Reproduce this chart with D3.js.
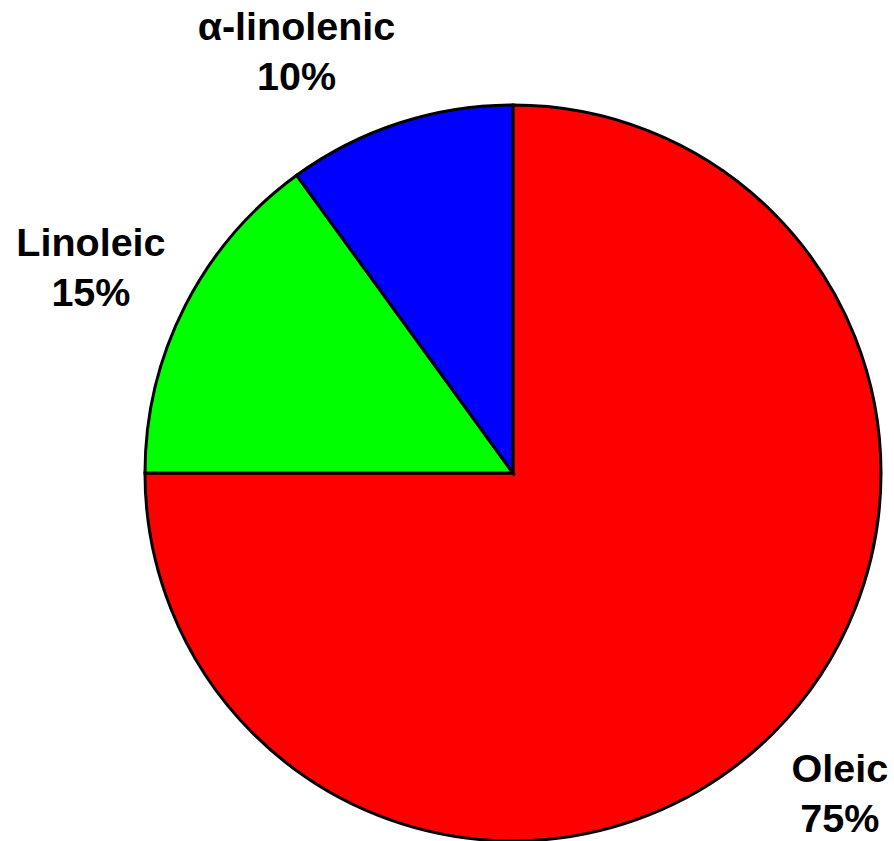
<!DOCTYPE html>
<html>
<head>
<meta charset="utf-8">
<script src="https://cdn.jsdelivr.net/npm/d3@7"></script>
<style>
  body { margin: 0; background: #fff; }
  text { font-family: "Liberation Sans", Arial, sans-serif; font-weight: bold; }
</style>
</head>
<body>
<svg width="894" height="841"></svg>
<script>
// fatty acid composition
var categories = ["Oleic", "Linoleic", "\u03b1-linolenic"];
var values = [75, 15, 10];
var colors = ["#ff0000", "#00ff00", "#0000ff"];

var width = 894, height = 841;
var radius = 368;
var cx = 513, cy = 473;

// excel "best fit" moves the labels around a bit
var labelNudge = [[3, -4], [-14, 2], [-75, 14]];

var pie = d3.pie()
    .value(function(d){ return d; })
    .sort(null);

var arc = d3.arc()
    .outerRadius(radius)
    .innerRadius(0);

var labelArc = d3.arc()
    .outerRadius(458 * 2)
    .innerRadius(0);   // centroid of (0, 2R) sits at R

var svg = d3.select("svg")
    .attr("width", width)
    .attr("height", height);

var g = svg.append("g")
    .attr("transform", "translate(" + cx + "," + cy + ")");

var arcs = pie(values);

g.selectAll("path")
    .data(arcs)
    .enter()
    .append("path")
    .attr("d", arc)
    .attr("fill", function(d, i){ return colors[i]; })
    .attr("stroke", "#000")
    .attr("stroke-width", 3)
    .attr("stroke-linejoin", "miter");

var labels = g.selectAll("g.lbl")
    .data(arcs)
    .enter()
    .append("g")
    .attr("class", "lbl")
    .attr("transform", function(d, i){
      var c = labelArc.centroid(d);
      return "translate(" + (c[0] + labelNudge[i][0]) + "," + (c[1] + labelNudge[i][1]) + ")";
    });

labels.append("text")
    .attr("text-anchor", "middle")
    .attr("y", -11)
    .attr("font-size", 39.5)
    .text(function(d, i){ return categories[i]; });

labels.append("text")
    .attr("text-anchor", "middle")
    .attr("y", 39)
    .attr("font-size", 39.5)
    .text(function(d){ return d.data + "%"; });
</script>
</body>
</html>
